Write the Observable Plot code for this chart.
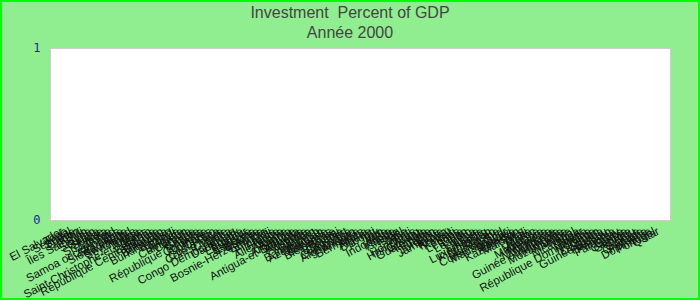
<!DOCTYPE html>
<html>
<head>
<meta charset="utf-8">
<script src="https://cdn.jsdelivr.net/npm/d3@7"></script>
<script src="https://cdn.jsdelivr.net/npm/@observablehq/plot@0.6"></script>
<style>
  html, body { margin: 0; padding: 0; background: #90EE90; }
  #wrap { position: relative; width: 700px; height: 300px; background: #90EE90; box-shadow: inset 0 0 0 2px #00ff00; overflow: hidden; }
  #title { position: absolute; top: 3px; left: 0; width: 700px; text-align: center; font-family: "Liberation Sans", Arial, sans-serif; font-size: 16px; line-height: 19.5px; color: #444; white-space: pre; }
  #chart { position: absolute; top: 40px; left: 0; }
  #chart svg { background: transparent !important; }
</style>
</head>
<body>
<div id="wrap">
  <div id="title"><div id="t1"></div><div id="t2"></div></div>
  <div id="chart"></div>
</div>
<script>
const titleText = "Investment  Percent of GDP";
const subtitleText = "Année 2000";
const yTicks = [0, 1];

const countries = [
  "El Salvador", "Togo", "Sénégal", "Suède", "Gabon", "Chili", "Îles Salomon", "Syrie", "Soudan", "Ghana",
  "Suisse", "Sri Lanka", "Zambie", "Tchad", "Samoa occidentales", "Slovaquie", "Sierra Leone", "Swaziland", "Seychelles", "Tonga",
  "Tunisie", "Saint-Christophe-et-Niévès", "Bénin", "Belgique", "République Centrafricaine", "Bhoutan", "Botswana", "Burkina Faso", "Burundi", "Bolivie",
  "Bulgarie", "Cameroun", "Canada", "Chine", "Chypre", "République Tchèque", "Colombie", "Comores", "Congo", "Costa Rica",
  "Côte d'Ivoire", "Croatie", "Cuba", "Congo Démocratique", "Danemark", "Égypte", "Équateur", "Érythrée", "Espagne", "Estonie",
  "Bosnie-Herzégovine", "Éthiopie", "Fidji", "Finlande", "France", "Allemagne", "Albanie", "Angola", "Argentine", "Antigua-et-Barbuda",
  "Arménie", "Australie", "Autriche", "Bahreïn", "Bangladesh", "Azerbaïdjan", "Barbade", "Bahamas", "Biélorussie", "Brunei",
  "Birmanie", "Cap-Vert", "Cambodge", "Afghanistan", "Andorre", "Bermudes", "Aruba", "Algérie", "Djibouti", "Irak",
  "Iran", "Inde", "Indonésie", "Irlande", "Islande", "Israël", "Italie", "Haïti", "Honduras", "Hong Kong",
  "Guyana", "Guatemala", "Hongrie", "Japon", "Jordanie", "Jamaïque", "Kenya", "Koweït", "Kiribati", "Laos",
  "Lettonie", "Liban", "Lesotho", "Libéria", "Libye", "Lituanie", "Luxembourg", "Kirghizistan", "Macao", "Macédoine",
  "Corée du Sud", "Madagascar", "Malawi", "Malaisie", "Kazakhstan", "Maldives", "Mali", "Malte", "Maroc", "Maurice",
  "Mauritanie", "Mexique", "Micronésie", "Moldavie", "Guinée équatoriale", "Mongolie", "Mozambique", "Namibie", "Népal", "Nicaragua",
  "Niger", "Nigéria", "République Dominicaine", "Norvège", "Oman", "Ouganda", "Guinée-Bissau", "Pakistan", "Panama", "Paraguay",
  "Grèce", "Gambie", "Géorgie", "Pérou", "Guinée", "Grenade", "Pologne", "Dominique", "Portugal", "Qatar"
];
// Investment values as shown: all bars at zero
const investment = countries.map(() => 0);

document.getElementById("t1").textContent = titleText;
document.getElementById("t2").textContent = subtitleText;

const data = countries.map((c, i) => ({country: c, value: investment[i]}));

const plot = Plot.plot({
  width: 700,
  height: 260,
  marginTop: 8,
  marginBottom: 80,
  marginLeft: 50,
  marginRight: 30,
  style: {background: "transparent", fontFamily: "'Liberation Sans', Arial, sans-serif", fontSize: "11.5px", overflow: "visible"},
  x: {domain: countries, padding: 0.1},
  y: {domain: [0, 1]},
  marks: [
    Plot.frame({fill: "white", stroke: "#cccccc", strokeWidth: 1}),
    Plot.barY(data, {x: "country", y: "value", fill: "#4a7ebb"}),
    Plot.axisY({ticks: yTicks, tickSize: 0, tickPadding: 10, tickFormat: d => String(d), label: null,
      fill: "#1f1f9c", fontFamily: "'DejaVu Sans Mono', monospace", fontSize: 12}),
    Plot.axisX({tickSize: 0, tickPadding: 10, tickRotate: -28, label: null, fill: "#111", fontSize: 11.5})
  ]
});
document.getElementById("chart").appendChild(plot);
</script>
</body>
</html>
